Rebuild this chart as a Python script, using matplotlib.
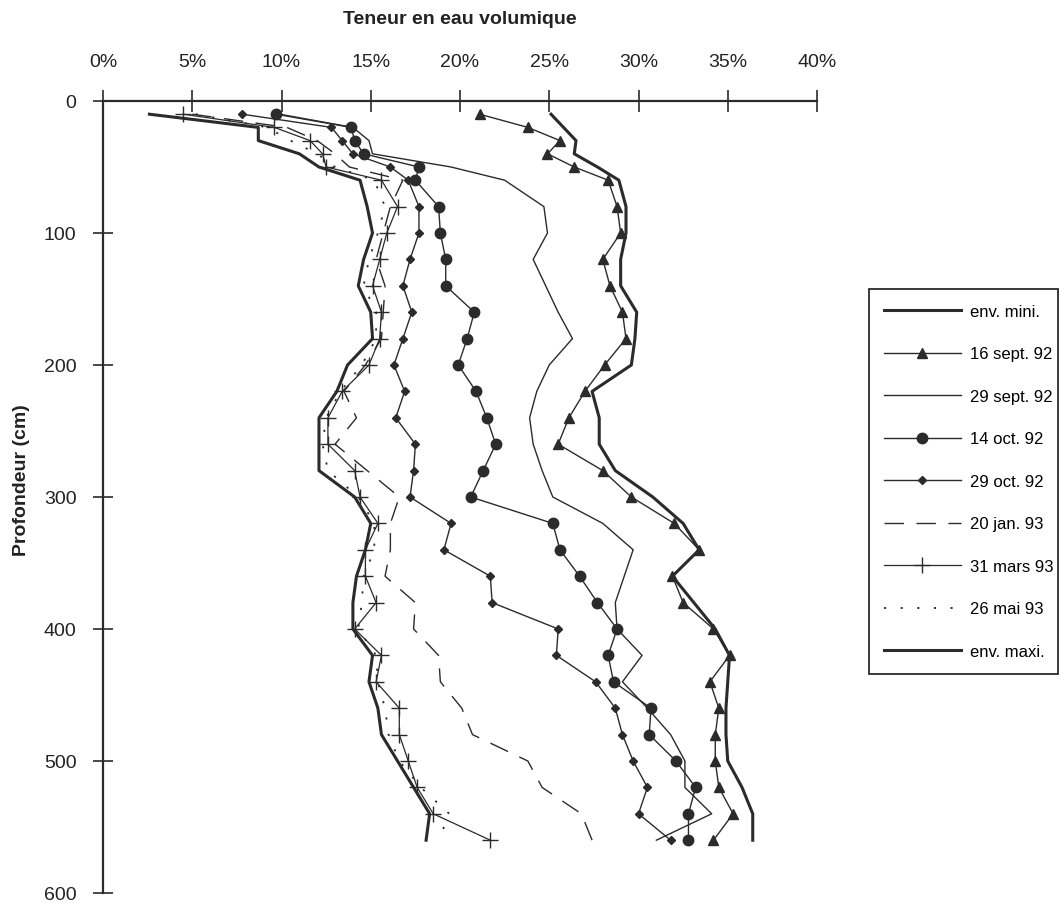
import matplotlib
matplotlib.use("Agg")
from matplotlib import pyplot as plt

plt.rcParams['font.family'] = ['Liberation Sans', 'DejaVu Sans']

W, H = 1060, 904

# profondeurs (cm), communes a tous les profils
depth = [10, 20, 30, 40, 50, 60, 80, 100, 120, 140, 160, 180, 200, 220, 240, 260,
         280, 300, 320, 340, 360, 380, 400, 420, 440, 460, 480, 500, 520, 540, 560]

# teneur en eau volumique (%)
env_mini = [2.6, 8.7, 8.7, 11.0, 12.1, 14.4, 14.8, 15.1, 14.6, 14.3, 15.0, 15.1, 13.7, 13.1, 12.1, 12.1,
            12.1, 14.1, 15.0, 14.7, 14.2, 14.0, 14.0, 15.1, 14.9, 15.4, 15.6, 16.5, 17.4, 18.3, 18.1]
sept16 = [21.1, 23.8, 25.6, 24.9, 26.4, 28.3, 28.8, 29.0, 28.0, 28.4, 29.1, 29.3, 28.1, 27.0, 26.1, 25.5,
          28.0, 29.6, 32.0, 33.4, 31.9, 32.5, 34.2, 35.1, 34.0, 34.5, 34.3, 34.3, 34.5, 35.3, 34.2]
sept29 = [9.9, 14.0, 14.9, 15.1, 19.5, 22.5, 24.7, 24.9, 24.1, 24.8, 25.5, 26.3, 25.0, 24.3, 23.9, 24.1,
          24.6, 25.2, 28.0, 29.7, 29.2, 28.7, 28.8, 30.2, 29.1, 30.5, 31.8, 32.6, 32.6, 34.1, 31.0]
oct14 = [9.7, 13.9, 14.1, 14.6, 17.7, 17.5, 18.8, 18.9, 19.2, 19.2, 20.8, 20.4, 19.9, 20.9, 21.5, 22.0,
         21.3, 20.6, 25.2, 25.6, 26.7, 27.7, 28.8, 28.3, 28.6, 30.7, 30.6, 32.1, 33.2, 32.8, 32.8]
oct29 = [7.8, 12.8, 13.4, 14.0, 16.1, 17.1, 17.7, 17.7, 17.2, 16.8, 17.3, 16.8, 16.3, 16.9, 16.4, 17.5,
         17.4, 17.2, 19.5, 19.1, 21.7, 21.8, 25.5, 25.4, 27.6, 28.7, 29.1, 29.7, 30.5, 30.0, 31.8]
jan20 = [5.0, 10.3, 12.0, 13.0, 13.8, 16.8, 16.1, 15.7, 15.3, 15.8, 15.7, 15.6, 14.7, 13.5, 14.2, 13.0,
         14.8, 16.6, 16.1, 16.1, 15.8, 17.5, 17.4, 18.8, 18.9, 20.1, 20.7, 23.8, 24.6, 26.8, 27.4]
mars31 = [4.5, 9.6, 11.6, 12.3, 12.5, 15.6, 16.5, 15.9, 15.5, 15.1, 15.6, 15.5, 14.9, 13.4, 12.6, 12.6,
          14.1, 14.4, 15.4, 14.7, 14.7, 15.3, 14.1, 15.6, 15.3, 16.6, 16.6, 17.1, 17.6, 18.5, 21.7]
mai26 = [5.2, 9.2, 10.5, 12.0, 13.0, 15.2, 15.8, 15.4, 14.9, 14.6, 15.3, 15.3, 14.5, 13.3, 12.5, 12.3,
         12.6, 14.3, 15.2, 15.2, 14.6, 14.5, 14.3, 15.3, 15.4, 15.8, 16.0, 16.6, 17.8, 19.4, 18.8]
env_maxi = [25.1, 25.8, 26.5, 26.4, 27.7, 28.9, 29.3, 29.3, 29.0, 29.0, 29.9, 29.8, 29.6, 27.4, 27.8, 27.8,
            28.7, 30.8, 32.5, 33.4, 31.9, 33.1, 34.3, 35.1, 35.0, 34.9, 34.9, 35.0, 35.8, 36.4, 36.4]

labels = ['env. mini.', '16 sept. 92', '29 sept. 92', '14 oct. 92', '29 oct. 92',
          '20 jan. 93', '31 mars 93', '26 mai 93', 'env. maxi.']
xticks = [0, 5, 10, 15, 20, 25, 30, 35, 40]
xticklabels = ['0%', '5%', '10%', '15%', '20%', '25%', '30%', '35%', '40%']
yticks = [0, 100, 200, 300, 400, 500, 600]

ink = '#2b2b2b'

fig = plt.figure(figsize=(W / 100, H / 100), dpi=100)
ax = fig.add_axes([103 / W, 1 - 894 / H, (817 - 103) / W, (894 - 102) / H])

ax.plot(env_mini, depth, color=ink, lw=2.2, label=labels[0])
ax.plot(sept16, depth, color=ink, lw=1.0, marker='^', ms=6.5, label=labels[1])
ax.plot(sept29, depth, color=ink, lw=1.0, label=labels[2])
ax.plot(oct14, depth, color=ink, lw=1.0, marker='o', ms=7.5, label=labels[3])
ax.plot(oct29, depth, color=ink, lw=1.0, marker='D', ms=4.5, label=labels[4])
ax.plot(jan20, depth, color=ink, lw=1.0, dashes=(14, 9), label=labels[5])
ax.plot(mars31, depth, color=ink, lw=0.9, marker='+', ms=11, mew=1.0, label=labels[6])
ax.plot(mai26, depth, color=ink, lw=1.3, dashes=(1.2, 8), label=labels[7])
ax.plot(env_maxi, depth, color=ink, lw=2.2, label=labels[8])

ax.set_xlim(0, 40)
ax.set_ylim(600, 0)
ax.xaxis.tick_top()
ax.set_xticks(xticks)
ax.set_xticklabels(xticklabels)
ax.set_yticks(yticks)
ax.tick_params(axis='x', direction='inout', length=16, width=1.2, color=ink, pad=14,
               labelsize=14, labelcolor='#222222')
ax.tick_params(axis='y', direction='inout', length=14, width=1.2, color=ink, pad=12,
               labelsize=14, labelcolor='#222222')
for side in ['right', 'bottom']:
    ax.spines[side].set_visible(False)
for side in ['top', 'left']:
    ax.spines[side].set_color(ink)
    ax.spines[side].set_linewidth(1.6)
ax.patch.set_alpha(0)

fig.text(460 / W, 1 - 20 / H, 'Teneur en eau volumique', ha='center', va='center',
         fontsize=14, fontweight='bold', color='#222222')
fig.text(22 / W, 1 - 480 / H, 'Profondeur (cm)', ha='center', va='center', rotation=90,
         fontsize=14, fontweight='bold', color='#222222')

leg = fig.legend(loc='upper left', bbox_to_anchor=(869 / W, 1 - 688 / H, (1058 - 869) / W, (688 - 290) / H),
                 mode='expand', numpoints=1, handlelength=4.6, handletextpad=0.55,
                 labelspacing=1.65, borderpad=0.9, fontsize=12, fancybox=False,
                 framealpha=1, borderaxespad=0)
leg.get_frame().set_edgecolor(ink)
leg.get_frame().set_linewidth(1.3)

fig.savefig('out.png', dpi=100)
